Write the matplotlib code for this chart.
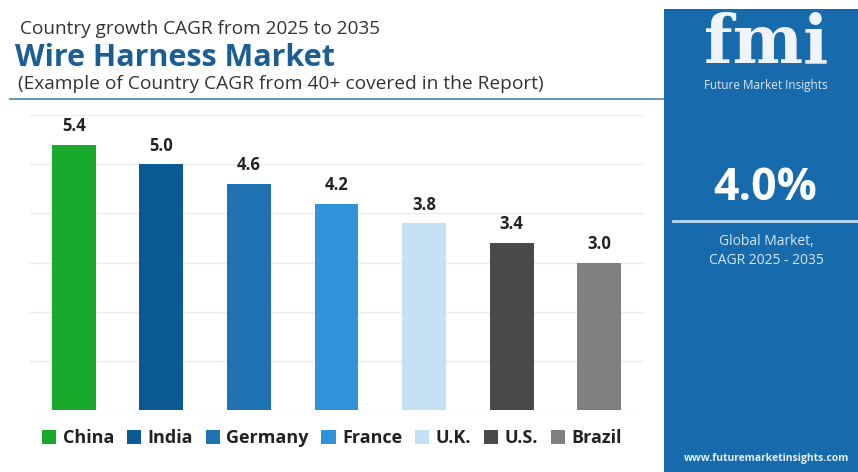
import matplotlib
matplotlib.use("Agg")
import matplotlib.pyplot as plt
from matplotlib.patches import Patch, Rectangle
from matplotlib.lines import Line2D

# Data
countries = ["China", "India", "Germany", "France", "U.K.", "U.S.", "Brazil"]
cagr = [5.4, 5.0, 4.6, 4.2, 3.8, 3.4, 3.0]
bar_colors = ["#19aa2d", "#0c5a93", "#1f73b3", "#2e93d8", "#c3e1f3", "#4a4a4a", "#808080"]
global_cagr = "4.0%"

W, H = 858, 472
plt.rcParams['font.family'] = ['Open Sans', 'DejaVu Sans']

fig = plt.figure(figsize=(W / 100, H / 100), dpi=100)
fig.patch.set_facecolor("white")

def fx(px):
    return px / W

def fy(py):
    return 1 - py / H

# bar chart area
ax = fig.add_axes([fx(30), fy(410), fx(643) - fx(30), fy(115) - fy(410)])
x = list(range(len(countries)))
ax.bar(x, cagr, width=0.5, color=bar_colors, zorder=3)
for xi, v in zip(x, cagr):
    ax.text(xi, v + 0.19, f"{v:.1f}", ha="center", va="bottom", fontsize=12,
            fontweight="bold", color="#222222", clip_on=False)
ax.set_xlim(-0.5, 6.5)
ax.set_ylim(0, 6)
ax.set_yticks(range(0, 7))
ax.grid(axis="y", color="#ececec", linewidth=1, zorder=0)
ax.tick_params(left=False, bottom=False, labelleft=False, labelbottom=False)
for s in ax.spines.values():
    s.set_visible(False)

# headings
fig.text(fx(20), fy(29), "Country growth CAGR from 2025 to 2035", fontsize=13.7,
         color="#333333", va="center", ha="left")
fig.text(fx(15), fy(58), "Wire Harness Market", fontsize=22, fontweight="bold",
         color="#1a5e95", va="center", ha="left")
fig.text(fx(18), fy(84), "(Example of Country CAGR from 40+ covered in the Report)",
         fontsize=13.8, color="#333333", va="center", ha="left")
fig.add_artist(Line2D([fx(10), fx(663)], [fy(99), fy(99)], color="#4a7fa8", linewidth=1.2))

# legend
handles = [Patch(facecolor=c, edgecolor="none", label=n) for n, c in zip(countries, bar_colors)]
leg = fig.legend(handles=handles, loc="center", bbox_to_anchor=(fx(332), fy(438)), ncol=7,
                 frameon=False, handlelength=0.8, handleheight=0.8, handletextpad=0.35,
                 columnspacing=0.7, prop={"weight": "bold", "size": 13})
for t in leg.get_texts():
    t.set_color("#222222")

# right panel
fig.add_artist(Rectangle((fx(664), 0), 1 - fx(664), fy(9), transform=fig.transFigure,
                         facecolor="#176aab", edgecolor="none", zorder=0))
fig.text(fx(766), fy(44), "fmi", fontsize=48, fontweight="bold", family="DejaVu Serif",
         color="#eef4fa", ha="center", va="center")
fig.text(fx(766), fy(86), "Future Market Insights", fontsize=8.5, color="#dce9f5",
         ha="center", va="center")
fig.text(fx(765), fy(189), global_cagr, fontsize=32, fontweight="bold", color="white",
         ha="center", va="center")
fig.add_artist(Line2D([fx(673), 1], [fy(221), fy(221)], color="#bcd8ef", linewidth=2))
fig.text(fx(766), fy(242), "Global Market,", fontsize=10, color="#d5e7f6",
         ha="center", va="center")
fig.text(fx(766), fy(260), "CAGR 2025 - 2035", fontsize=10, color="#d5e7f6",
         ha="center", va="center")
fig.text(fx(767), fy(458), "www.futuremarketinsights.com", fontsize=7.5, fontweight="bold",
         color="#e6f0f9", ha="center", va="center")

fig.savefig("out.png", dpi=100)
